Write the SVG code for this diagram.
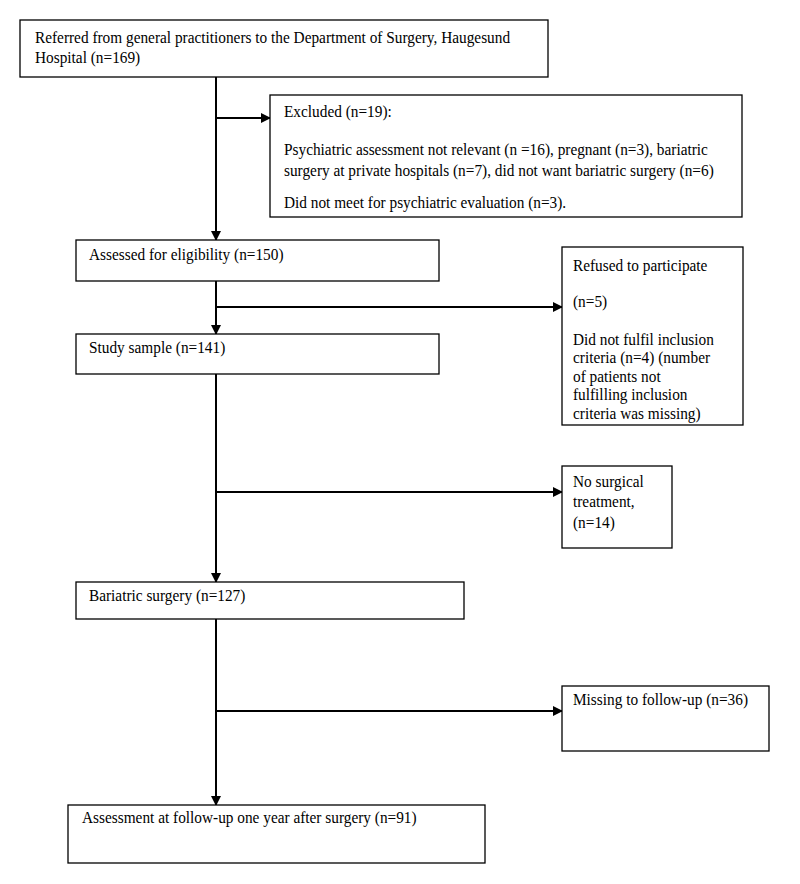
<svg xmlns="http://www.w3.org/2000/svg" width="800" height="884" viewBox="0 0 800 884">
<style>
.box{fill:#fff;stroke:#000;stroke-width:1.3}
.t{font-family:'Liberation Serif','DejaVu Serif',serif;font-size:16px;fill:#000}
.c{stroke:#000;stroke-width:2;fill:none}
</style>
<defs>
<marker id="ah" markerWidth="10" markerHeight="10" refX="9" refY="5" orient="auto" markerUnits="userSpaceOnUse">
<path d="M0,0 L10,5 L0,10 z" fill="#000"/>
</marker>
</defs>
<rect width="800" height="884" fill="#fff"/>
<g id="connectors">
<line class="c" x1="216" y1="77" x2="216" y2="240" marker-end="url(#ah)"/>
<line class="c" x1="216" y1="118" x2="270" y2="118" marker-end="url(#ah)"/>
<line class="c" x1="216" y1="281" x2="216" y2="334" marker-end="url(#ah)"/>
<line class="c" x1="216" y1="307" x2="562" y2="307" marker-end="url(#ah)"/>
<line class="c" x1="216" y1="374" x2="216" y2="582" marker-end="url(#ah)"/>
<line class="c" x1="216" y1="492" x2="562" y2="492" marker-end="url(#ah)"/>
<line class="c" x1="216" y1="619" x2="216" y2="805" marker-end="url(#ah)"/>
<line class="c" x1="216" y1="711" x2="562" y2="711" marker-end="url(#ah)"/>
</g>
<g id="referred">
<rect class="box" x="20" y="20" width="528" height="57"/>
<text class="t" transform="translate(35,43) scale(0.958,1)">Referred from general practitioners to the Department of Surgery, Haugesund</text>
<text class="t" transform="translate(35,63) scale(0.958,1)">Hospital (n=169)</text>
</g>
<g id="excluded">
<rect class="box" x="270" y="95" width="472" height="122"/>
<text class="t" transform="translate(284,117) scale(0.958,1)">Excluded (n=19):</text>
<text class="t" transform="translate(284,155) scale(0.958,1)">Psychiatric assessment not relevant (n =16), pregnant (n=3), bariatric</text>
<text class="t" transform="translate(284,176) scale(0.958,1)">surgery at private hospitals (n=7), did not want bariatric surgery (n=6)</text>
<text class="t" transform="translate(284,208) scale(0.958,1)">Did not meet for psychiatric evaluation (n=3).</text>
</g>
<g id="assessed">
<rect class="box" x="76" y="240" width="363" height="41"/>
<text class="t" transform="translate(89,260) scale(0.958,1)">Assessed for eligibility (n=150)</text>
</g>
<g id="refused">
<rect class="box" x="562" y="247" width="181" height="178"/>
<text class="t" transform="translate(573,271) scale(0.958,1)">Refused to participate</text>
<text class="t" transform="translate(573,307) scale(0.958,1)">(n=5)</text>
<text class="t" transform="translate(573,345) scale(0.958,1)">Did not fulfil inclusion</text>
<text class="t" transform="translate(573,363) scale(0.958,1)">criteria (n=4) (number</text>
<text class="t" transform="translate(573,382) scale(0.958,1)">of patients not</text>
<text class="t" transform="translate(573,400) scale(0.958,1)">fulfilling inclusion</text>
<text class="t" transform="translate(573,419) scale(0.958,1)">criteria was missing)</text>
</g>
<g id="study">
<rect class="box" x="76" y="334" width="363" height="40"/>
<text class="t" transform="translate(89,353) scale(0.958,1)">Study sample (n=141)</text>
</g>
<g id="nosurgical">
<rect class="box" x="562" y="466" width="110" height="82"/>
<text class="t" transform="translate(573,487) scale(0.958,1)">No surgical</text>
<text class="t" transform="translate(573,507) scale(0.958,1)">treatment,</text>
<text class="t" transform="translate(573,528) scale(0.958,1)">(n=14)</text>
</g>
<g id="bariatric">
<rect class="box" x="76" y="582" width="388" height="37"/>
<text class="t" transform="translate(89,601) scale(0.958,1)">Bariatric surgery (n=127)</text>
</g>
<g id="missing">
<rect class="box" x="562" y="686" width="207" height="65"/>
<text class="t" transform="translate(573,705) scale(0.958,1)">Missing to follow-up (n=36)</text>
</g>
<g id="assessment">
<rect class="box" x="68" y="805" width="417" height="58"/>
<text class="t" transform="translate(82,823) scale(0.958,1)">Assessment at follow-up one year after surgery (n=91)</text>
</g>
</svg>
